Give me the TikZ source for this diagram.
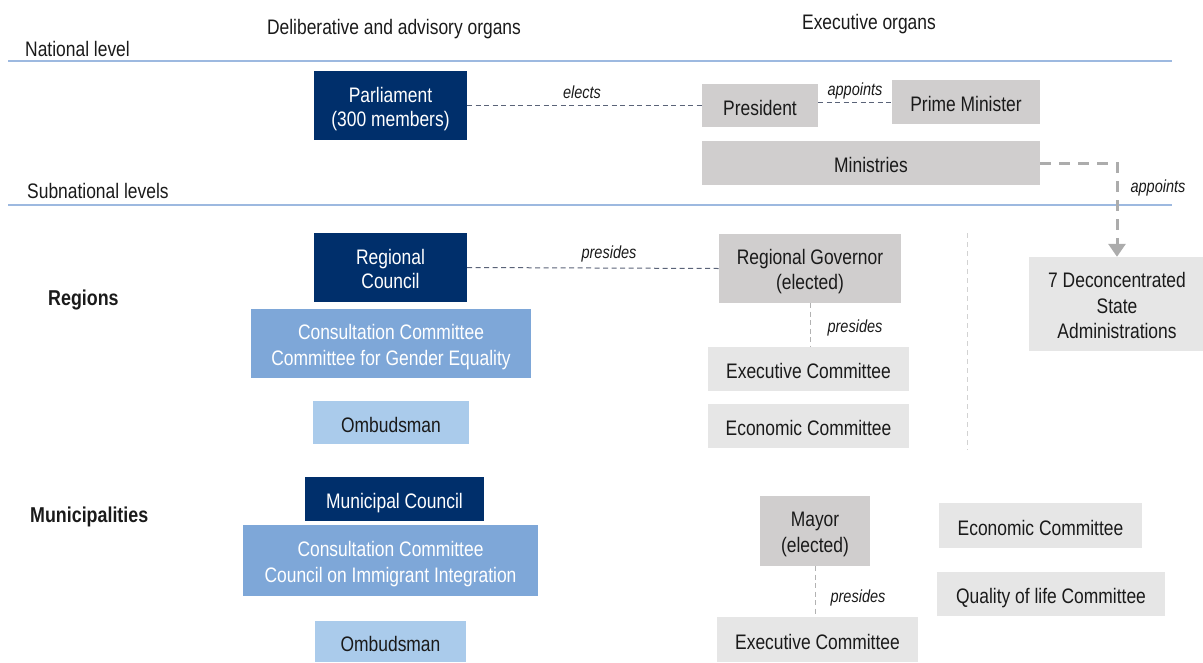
\documentclass[tikz,border=0pt]{standalone}
\usepackage{fontspec}
\setmainfont{Liberation Sans}[FakeStretch=0.83]
\usetikzlibrary{arrows.meta}
\definecolor{navy}{HTML}{002F6B}
\definecolor{midblue}{HTML}{7EA7D8}
\definecolor{lightblue}{HTML}{AACBEB}
\definecolor{dgray}{HTML}{D0CECE}
\definecolor{lgray}{HTML}{E6E6E6}
\definecolor{rulecol}{HTML}{9DB9E0}
\definecolor{dashcol}{HTML}{5A6378}
\definecolor{txt}{HTML}{1A1A1A}
\newcommand\lnstrut{\rule[-4pt]{0pt}{27pt}}
\newcommand\mlstrut{\rule{0pt}{22pt}}
\newcommand\mlend{\rule[-4pt]{0pt}{4pt}}
\begin{document}
\begin{tikzpicture}[x=1pt,y=-1pt,
  every node/.style={inner sep=0pt, text=txt, align=center},
  boxbase/.style={font=\fontsize{21}{25}\selectfont, execute at begin node=\lnstrut, execute at end node=\lnstrut},
  multi/.style={font=\fontsize{21}{#1}\selectfont, execute at begin node={}, execute at end node={}},
  navybox/.style={boxbase, fill=navy, text=white},
  midbox/.style={boxbase, fill=midblue, text=white},
  lbbox/.style={boxbase, fill=lightblue},
  dgbox/.style={boxbase, fill=dgray},
  lgbox/.style={boxbase, fill=lgray},
  lbl/.style={font=\fontsize{17.5}{20}\selectfont\itshape},
  head/.style={font=\fontsize{21}{24}\selectfont},
  rowlbl/.style={font=\fontsize{21.5}{24}\selectfont\bfseries, anchor=west},
  link/.style={dashcol, line width=1pt, dash pattern=on 5pt off 3.5pt},
  vlink/.style={gray!60, line width=1pt, dash pattern=on 5pt off 3.5pt},
  biglink/.style={gray!65, line width=3pt, dash pattern=on 11pt off 8pt, -{Triangle[length=13pt,width=17pt]}},
  levelrule/.style={rulecol, line width=1.3pt}
]
\useasboundingbox (0,0) rectangle (1203,662);

% headings
\node[head] (hdelib) at (394,29) {Deliberative and advisory organs};
\node[head] (hexec) at (869,24) {Executive organs};
\node[head, anchor=west] (hnat) at (25,49) {National level};
\node[head, anchor=west] (hsub) at (27,191) {Subnational levels};
\draw[levelrule] (8,61) -- (1172,61);
\draw[levelrule] (8,205) -- (1172,205);
\node[rowlbl] (hreg) at (48,300) {Regions};
\node[rowlbl] (hmun) at (30,517) {Municipalities};

% national
\node[navybox, multi=24, minimum width=153pt, minimum height=69pt] (parl) at (390.5,105.5) {\mlstrut Parliament\\(300 members)\mlend};
\node[dgbox, minimum width=116pt, minimum height=43pt] (pres) at (760,105.5) {President};
\node[dgbox, minimum width=148pt, minimum height=44pt] (pm) at (966,102) {Prime Minister};
\node[dgbox, minimum width=338pt, minimum height=44pt] (min) at (871,163) {Ministries};
\node[lgbox, multi=25.5, minimum width=176pt, minimum height=94pt] (dsa) at (1117,304) {\mlstrut 7 Deconcentrated\\State\\Administrations\mlend};

\draw[link] (parl.east) -- (pres.west);
\node[lbl] (lelects) at (582,92) {elects};
\draw[link] (pres.east |- pm.west) -- (pm.west);
\node[lbl] (lapp1) at (855,91) {appoints};
\draw[biglink] (min.east) -| (dsa.north);
\node[lbl] (lapp2) at (1158,188) {appoints};

% regions
\node[navybox, multi=24, minimum width=153pt, minimum height=69pt] (rc) at (390.5,267.5) {\mlstrut Regional\\Council\mlend};
\node[midbox, multi=26, minimum width=280pt, minimum height=69pt] (cc1) at (391,343.5) {\mlstrut Consultation Committee\\Committee for Gender Equality\mlend};
\node[lbbox, minimum width=156pt, minimum height=43pt] (omb1) at (391,422.5) {Ombudsman};
\node[dgbox, multi=25, minimum width=182pt, minimum height=69pt] (rg) at (810,268.5) {\mlstrut Regional Governor\\(elected)\mlend};
\node[lgbox, minimum width=201pt, minimum height=44pt] (ec1) at (808.5,369) {Executive Committee};
\node[lgbox, minimum width=201pt, minimum height=44pt] (eco1) at (808.5,426) {Economic Committee};

\draw[link] (rc.east) -- (rg.west);
\node[lbl] (lpres1) at (609,254) {presides};
\draw[vlink] (rg.south) -- (rg.south |- ec1.north);
\node[lbl] (lpres2) at (855,328) {presides};
\draw[gray!35, line width=0.8pt, dash pattern=on 5pt off 4pt] (967,233) -- (967,450);

% municipalities
\node[navybox, minimum width=179pt, minimum height=44pt] (mc) at (394.5,499) {Municipal Council};
\node[midbox, multi=26, minimum width=295pt, minimum height=71pt] (cc2) at (390.5,560.5) {\mlstrut Consultation Committee\\Council on Immigrant Integration\mlend};
\node[lbbox, minimum width=151pt, minimum height=41pt] (omb2) at (390.5,641.5) {Ombudsman};
\node[dgbox, multi=26, minimum width=110pt, minimum height=70pt] (mayor) at (815,531) {\mlstrut Mayor\\(elected)\mlend};
\node[lgbox, minimum width=201pt, minimum height=45pt] (ec2) at (817.5,639.5) {Executive Committee};
\node[lgbox, minimum width=203pt, minimum height=45pt] (eco2) at (1040.5,525.5) {Economic Committee};
\node[lgbox, minimum width=228pt, minimum height=44pt] (qol) at (1051,594) {Quality of life Committee};

\draw[vlink] (mayor.south) -- (mayor.south |- ec2.north);
\node[lbl] (lpres3) at (858,598) {presides};
\end{tikzpicture}
\end{document}
